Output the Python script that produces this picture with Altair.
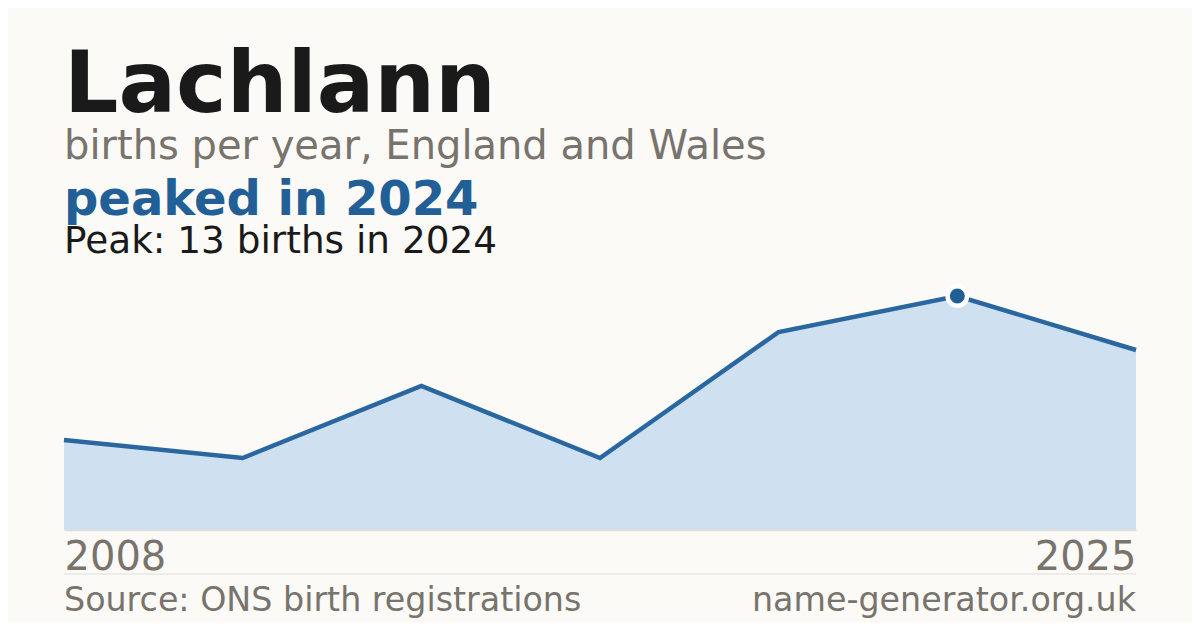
import altair as alt
import pandas as pd

# data
years = ["2008", "2012", "2015", "2018", "2021", "2024", "2025"]
births = [5, 4, 8, 4, 11, 13, 10]
peak_year = "2024"
peak_births = 13

title_text = "Lachlann"
subtitle_text = "births per year, England and Wales"
headline_text = "peaked in 2024"
peak_text = "Peak: 13 births in 2024"
source_text = "Source: ONS birth registrations"
site_text = "name-generator.org.uk"

BG = "#fbfaf6"
FONT = "DejaVu Sans"
GREY = "#78736c"
BLUE = "#215f96"

df = pd.DataFrame({"year": years, "births": births})
peak_df = pd.DataFrame({"year": [peak_year], "births": [peak_births]})

W, H = 1072, 260

x = alt.X(
    "year:O",
    scale=alt.Scale(type="point", padding=0),
    sort=years,
    axis=alt.Axis(
        values=[years[0], years[-1]],
        title=None,
        labelAngle=0,
        labelFlush=True,
        labelFontSize=40,
        labelFont=FONT,
        labelColor=GREY,
        labelBaseline="alphabetic",
        labelPadding=39,
        ticks=False,
        tickSize=0,
        grid=False,
        domain=True,
        domainColor="#e2ded6",
        domainWidth=1.5,
    ),
)
y = alt.Y(
    "births:Q",
    scale=alt.Scale(domain=[0, 13 / 0.9], nice=False, zero=True),
    axis=None,
)

area = alt.Chart(df).mark_area(color="#cfe0f0", opacity=1).encode(x=x, y=y)
line = alt.Chart(df).mark_line(color="#2a67a0", strokeWidth=4.5).encode(x=x, y=y)
dot = alt.Chart(peak_df).mark_point(
    filled=True, shape="circle", size=380, fill="#1f5f96", stroke="white",
    strokeWidth=4.5, opacity=1
).encode(x=x, y=y)


def label(text, y_px, size, color, weight="normal", align="left", x_px=0):
    return alt.Chart(pd.DataFrame({"t": [text]})).mark_text(
        align=align, baseline="alphabetic", font=FONT, fontSize=size,
        fontWeight=weight, color=color
    ).encode(text="t:N", x=alt.value(x_px), y=alt.value(y_px))


texts = [
    label(title_text, -158, 85.4, "#1a1a1a", "bold"),
    label(subtitle_text, -111, 40, GREY),
    label(headline_text, -55, 48, BLUE, "bold"),
    label(peak_text, -17, 37.4, "#1a1a1a"),
    label(source_text, 341, 33.3, GREY),
    label(site_text, 341, 33.3, GREY, align="right", x_px=W),
]

sep = alt.Chart(pd.DataFrame({"a": [0]})).mark_rule(color="#e2ded6", strokeWidth=1.2).encode(
    x=alt.value(0), x2=alt.value(W), y=alt.value(304)
)

chart = alt.layer(area, line, dot, sep, *texts).properties(
    width=W, height=H,
    autosize=alt.AutoSizeParams(type="none"),
    padding={"left": 56, "top": 262, "right": 56, "bottom": 92},
    background=BG,
).configure_view(strokeWidth=0)

chart.save("out.html", embed_options={"renderer": "svg", "actions": False})
